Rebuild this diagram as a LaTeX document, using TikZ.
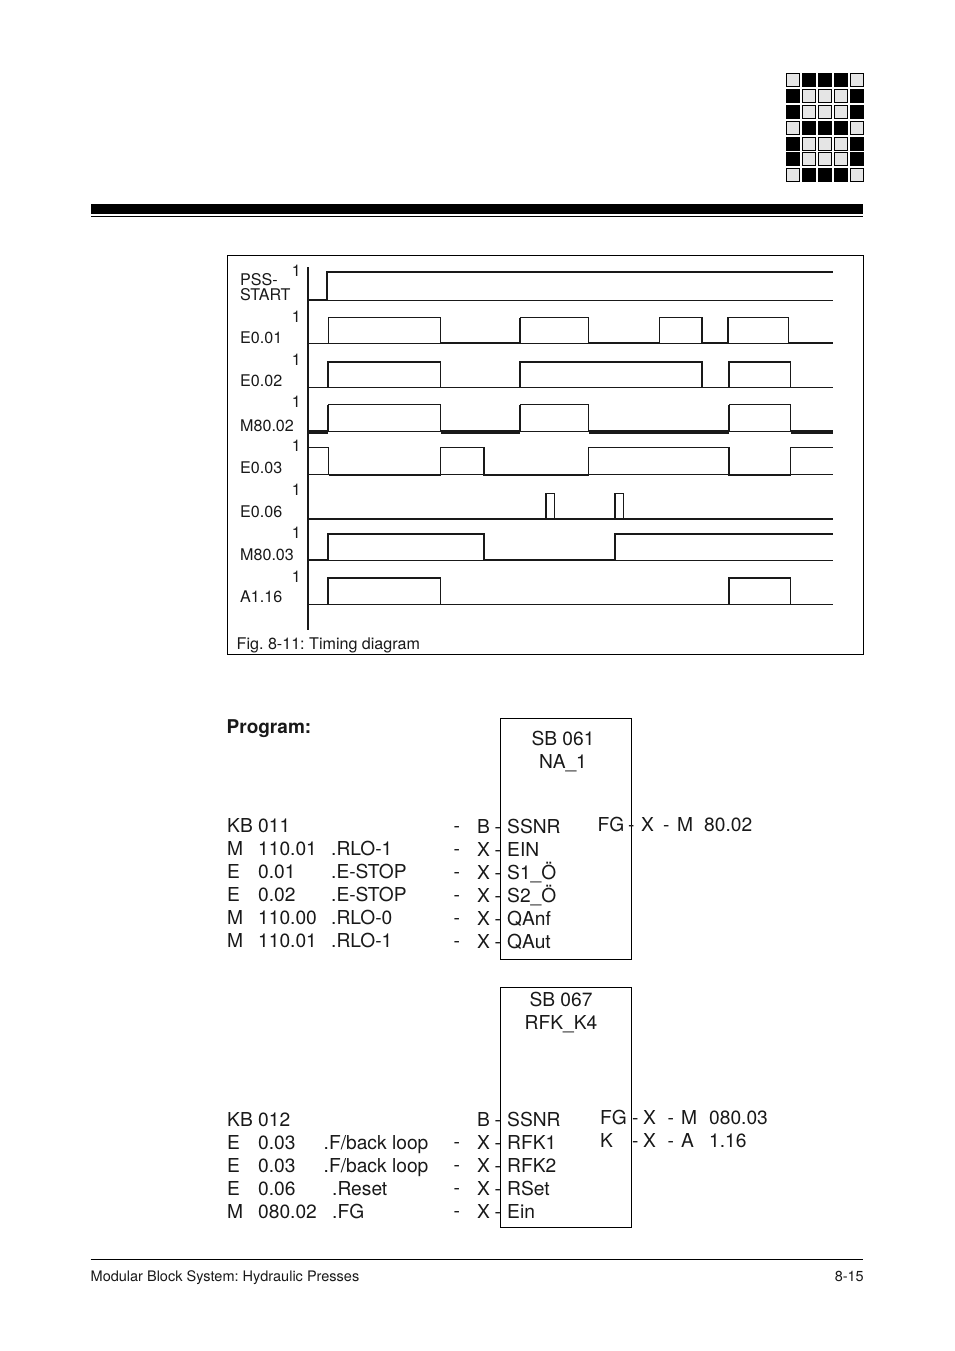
\documentclass[tikz,border=0pt]{standalone}
\usepackage{fontspec}
\setmainfont{TeX Gyre Heros}
\frenchspacing
\definecolor{ink}{gray}{0.1}
\definecolor{cellgray}{gray}{0.9}
\tikzset{
  thinw/.style={line width=0.9pt,draw=ink},
  thickw/.style={line width=2pt,draw=ink,line cap=butt},
  vthick/.style={line width=3.2pt,draw=ink},
  txt/.style={inner sep=0pt,anchor=base west,text=ink,font=\fontsize{19.2}{20}\selectfont},
  ctxt/.style={txt,anchor=base},
  lab/.style={inner sep=0pt,anchor=base west,text=ink,font=\fontsize{16.1}{18}\selectfont},
  one/.style={lab,anchor=base east},
  small/.style={inner sep=0pt,anchor=base west,text=ink,font=\fontsize{14.5}{16}\selectfont},
  lightcell/.style={fill=cellgray,draw=black,line width=1pt},
  darkcell/.style={fill=black,draw=black,line width=1pt},
  blockbox/.style={draw=black,line width=0.9pt}
}
\newcommand{\logocell}[3]{\path[#3] (786.5+16*#1,73.5+15.9*#2) rectangle ++(13,13);}
\begin{document}
\begin{tikzpicture}[x=1pt,y=-1pt]
\useasboundingbox (0,0) rectangle (954,1351);
\fill[white] (0,0) rectangle (954,1351);
% logo
\foreach \r in {0,3,6}{
  \logocell{0}{\r}{lightcell}\logocell{1}{\r}{darkcell}\logocell{2}{\r}{darkcell}\logocell{3}{\r}{darkcell}\logocell{4}{\r}{lightcell}}
\foreach \r in {1,2,4,5}{
  \logocell{0}{\r}{darkcell}\logocell{1}{\r}{lightcell}\logocell{2}{\r}{lightcell}\logocell{3}{\r}{lightcell}\logocell{4}{\r}{darkcell}}
% header rule
\fill[black] (90.5,204) rectangle (863,214.3);
\fill[black] (90.5,215.7) rectangle (863,216.8);
% frame
\draw[blockbox] (227.5,255.5) rectangle (863.5,654.5);
% axis
\draw[line width=2pt,draw=ink] (308,267) -- (308,630);
% baselines
\foreach \y in {300.5,343.5,387,431.5,474.5,560,604.5}{\draw[thinw] (308,\y) -- (833,\y);}
% PSS-START
\draw[thickw] (308,300) -- (326.5,300) -- (326.5,272) -- (833,272);
% E0.01
\draw[thinw] (328.5,343.5) -- (328.5,317.5) -- (440.5,317.5) -- (440.5,343);
\draw[thickw] (440.5,343) -- (520,343) -- (520,317.5);
\draw[thinw] (520,317.5) -- (588.5,317.5) -- (588.5,343);
\draw[thickw] (588.5,343) -- (659.5,343);
\draw[thinw] (659.5,343) -- (659.5,317.5) -- (702,317.5);
\draw[thickw] (702,317) -- (702,343) -- (728,343) -- (728,317);
\draw[thinw] (728,317.5) -- (788.5,317.5) -- (788.5,343);
\draw[thickw] (788.5,343) -- (833,343);
% E0.02
\draw[thickw] (328,387) -- (328,362) -- (440.5,362);
\draw[thinw] (440.5,362) -- (440.5,387);
\draw[thickw] (520,387) -- (520,362) -- (702,362) -- (702,387);
\draw[thickw] (729,387) -- (729,362) -- (790.5,362);
\draw[thinw] (790.5,362) -- (790.5,387);
% M80.02
\draw[vthick] (308,432) -- (328,432);
\draw[thickw] (328,432) -- (328,404.5);
\draw[thinw] (328,404.5) -- (440.5,404.5) -- (440.5,432);
\draw[vthick] (440.5,432) -- (520,432);
\draw[thickw] (520,432) -- (520,404.5);
\draw[thinw] (520,404.5) -- (588.5,404.5) -- (588.5,432);
\draw[vthick] (588.5,432) -- (729,432);
\draw[thickw] (729,432) -- (729,404.5);
\draw[thinw] (729,404.5) -- (790.5,404.5) -- (790.5,432);
\draw[vthick] (790.5,432) -- (833,432);
% E0.03
\draw[thinw] (308,447.5) -- (328.5,447.5) -- (328.5,475);
\draw[thickw] (328.5,475) -- (440.5,475);
\draw[thinw] (440.5,475) -- (440.5,447.5) -- (484,447.5);
\draw[thickw] (484,447) -- (484,475) -- (588.5,475);
\draw[thinw] (588.5,475) -- (588.5,447.5) -- (729,447.5);
\draw[thickw] (729,447) -- (729,475) -- (790.5,475);
\draw[thinw] (790.5,475) -- (790.5,447.5) -- (833,447.5);
% E0.06
\draw[thickw] (308,519) -- (833,519);
\draw[thickw] (546,519) -- (546,493);
\draw[thinw] (546,493) -- (554.3,493) -- (554.3,519);
\draw[thickw] (615.3,519) -- (615.3,493);
\draw[thinw] (615.3,493) -- (623.5,493) -- (623.5,519);
% M80.03
\draw[thickw] (308,560) -- (328,560) -- (328,534) -- (484,534) -- (484,560) -- (615,560) -- (615,534) -- (833,534);
% A1.16
\draw[thickw] (328,604.5) -- (328,578) -- (440.5,578);
\draw[thinw] (440.5,578) -- (440.5,604.5);
\draw[thickw] (729,604.5) -- (729,578) -- (790.5,578);
\draw[thinw] (790.5,578) -- (790.5,604.5);
% signal labels
\node[lab] (lpss) at (240,285) {PSS-};
\node[lab] (lstart) at (240,300.5) {START};
\node[lab] (le01) at (240,343) {E0.01};
\node[lab] (le02) at (240,386.5) {E0.02};
\node[lab] (lm802) at (240,431) {M80.02};
\node[lab] (le03) at (240,473.5) {E0.03};
\node[lab] (le06) at (240,517) {E0.06};
\node[lab] (lm803) at (240,560) {M80.03};
\node[lab] (la116) at (240,602) {A1.16};
\node[one] (o1) at (301,276) {1};
\node[one] (o2) at (301,322) {1};
\node[one] (o3) at (301,365) {1};
\node[one] (o4) at (301,407) {1};
\node[one] (o5) at (301,451) {1};
\node[one] (o6) at (301,495) {1};
\node[one] (o7) at (301,538) {1};
\node[one] (o8) at (301,582) {1};
\node[lab] (cap) at (236.5,649) {Fig. 8-11: Timing diagram};
% program
\node[txt,font=\bfseries\fontsize{19}{20}\selectfont] (prog) at (226.5,733) {Program:};
% block 1
\draw[blockbox] (500.5,718.5) rectangle (631.5,959.5);
\node[ctxt] (t1a) at (563,745) {SB 061};
\node[ctxt] (t1b) at (563,768) {NA\_1};
\node[txt] (a0) at (227,832) {KB 011};
\foreach \n/\y/\p/\v/\c in {1/855/M/110.01/.RLO-1,2/878/E/0.01/.E-STOP,3/901/E/0.02/.E-STOP,4/924/M/110.00/.RLO-0,5/947/M/110.01/.RLO-1}{
  \node[txt] (ap\n) at (227,\y) {\p};
  \node[txt] (av\n) at (258,\y) {\v};
  \node[txt] (ac\n) at (331,\y) {\c};
}
\foreach \n/\y/\m/\s in {0/833/B/SSNR,1/856/X/EIN,2/879/X/S1\_Ö,3/902/X/S2\_Ö,4/925/X/QAnf,5/948/X/QAut}{
  \node[txt] (ad\n) at (453.5,\y-1) {-};
  \node[txt] (am\n) at (477,\y) {\m};
  \node[txt] (ae\n) at (494.5,\y) {-};
  \node[txt] (as\n) at (507,\y) {\s};
}
\node[txt] (fg1) at (597.5,831) {FG};
\node[txt] (fg1d) at (628,831) {-};
\node[txt] (fg1x) at (641,831) {X};
\node[txt] (fg1e) at (663,831) {-};
\node[txt] (fg1m) at (677,831) {M};
\node[txt] (fg1v) at (704,831) {80.02};
% block 2
\draw[blockbox] (500.5,987.5) rectangle (631.5,1227.5);
\node[ctxt] (t2a) at (561,1006) {SB 067};
\node[ctxt] (t2b) at (561,1029) {RFK\_K4};
\node[txt] (b0) at (227,1126) {KB 012};
\foreach \n/\y/\p/\v/\c/\x in {1/1149/E/0.03/.F\slash back loop/323.5,2/1172/E/0.03/.F\slash back loop/323.5,3/1195/E/0.06/.Reset/332,4/1218/M/080.02/.FG/332}{
  \node[txt] (bp\n) at (227,\y) {\p};
  \node[txt] (bv\n) at (258,\y) {\v};
  \node[txt] (bc\n) at (\x,\y) {\c};
  \node[txt] (bd\n) at (453.5,\y-1) {-};
}
\foreach \n/\y/\m/\s in {0/1126/B/SSNR,1/1149/X/RFK1,2/1172/X/RFK2,3/1195/X/RSet,4/1218/X/Ein}{
  \node[txt] (bm\n) at (477,\y) {\m};
  \node[txt] (be\n) at (494.5,\y) {-};
  \node[txt] (bs\n) at (507,\y) {\s};
}
\node[txt] (fg2) at (600,1124) {FG};
\node[txt] (fg2d) at (632,1124) {-};
\node[txt] (fg2x) at (643,1124) {X};
\node[txt] (fg2e) at (667.5,1124) {-};
\node[txt] (fg2m) at (681,1124) {M};
\node[txt] (fg2v) at (709,1124) {080.03};
\node[txt] (k2) at (600,1147) {K};
\node[txt] (k2d) at (632,1147) {-};
\node[txt] (k2x) at (643,1147) {X};
\node[txt] (k2e) at (667.5,1147) {-};
\node[txt] (k2m) at (681,1147) {A};
\node[txt] (k2v) at (709,1147) {1.16};
% footer
\draw[line width=0.9pt,draw=black] (90.5,1259.5) -- (863,1259.5);
\node[small] (foot) at (90.5,1281) {Modular Block System: Hydraulic Presses};
\node[small,anchor=base east] (page) at (864,1281) {8-15};
\end{tikzpicture}
\end{document}
